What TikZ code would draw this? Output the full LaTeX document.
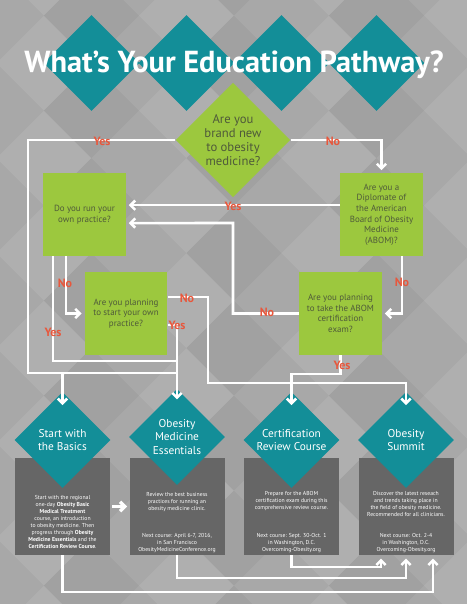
\documentclass[tikz,border=0pt]{standalone}
\usepackage{fontspec}
\setmainfont{PT Sans}
\usetikzlibrary{shapes.geometric, arrows.meta}

\definecolor{pathteal}{HTML}{138E98}
\definecolor{pathgreen}{HTML}{9CC83E}
\definecolor{qtext}{HTML}{4F5A3A}
\definecolor{ansred}{HTML}{E8573C}
\definecolor{boxgray}{HTML}{666666}
\definecolor{bgA}{HTML}{A1A1A1}
\definecolor{bgB}{HTML}{A8A8A8}
\definecolor{bgC}{HTML}{AFAFAF}

\tikzset{
  tealdia/.style={diamond, aspect=1, fill=pathteal, inner sep=0pt,
    minimum width=72pt, minimum height=72pt, text=white, align=center,
    font=\fontsize{8.5}{10}\selectfont},
  question/.style={rectangle, fill=pathgreen, minimum width=62pt,
    minimum height=62pt, inner sep=0pt, text=qtext, align=center,
    font=\fontsize{6.7}{8}\selectfont},
  infobox/.style={rectangle, fill=boxgray, minimum width=71.25pt,
    minimum height=72.75pt, inner sep=0pt},
  infotext/.style={text=white, align=center, inner sep=0pt,
    font=\fontsize{4.3}{5.2}\selectfont},
  answer/.style={text=ansred, inner sep=0pt,
    font=\bfseries\fontsize{9}{10}\selectfont},
  wire/.style={draw=white, line width=1.9pt},
  flow/.style={wire, -{Straight Barb[length=3.5pt,width=7pt]}},
}

\begin{document}
\begin{tikzpicture}[x=0.75pt, y=-0.75pt]

\useasboundingbox (0,0) rectangle (467,604);

% argyle background
\begin{scope}
\clip (0,0) rectangle (467,604);
\fill[bgB] (0,0) rectangle (467,604);
\foreach \i in {-6,...,6}
  \foreach \j in {-2,...,12} {
    \pgfmathtruncatemacro{\bgodd}{mod(\i+\j+40,2)}
    \pgfmathtruncatemacro{\bgtone}{mod(\i+3*\j+60,3)}
    \ifnum\bgodd=0
      \ifcase\bgtone
        \def\bgcol{bgA}\or\def\bgcol{bgB}\or\def\bgcol{bgC}\fi
      \fill[\bgcol] ({234+47.5*\i},{63+47.5*\j}) +(0,-47.5) -- +(47.5,0)
        -- +(0,47.5) -- +(-47.5,0) -- cycle;
    \fi
  }
\end{scope}

% title
\foreach \k/\x in {1/91.5, 2/186.5, 3/281.5, 4/376.5}
  \node[tealdia] (top\k) at (\x,63) {};
\node[text=white, anchor=base, inner sep=0pt,
  font=\bfseries\fontsize{22.8}{26}\selectfont] (title) at (234,72)
  {What’s Your Education Pathway?};

% questions
\node[diamond, aspect=1, fill=pathgreen, inner sep=0pt, minimum width=86pt,
  minimum height=86pt, text=qtext, align=center,
  font=\fontsize{9.5}{10.5}\selectfont] (q0) at (233,140)
  {Are you\\brand new\\to obesity\\medicine?};
\node[question] (q1) at (84.5,214.5) {Do you run your\\own practice?};
\node[question] (q2) at (381.5,214.5)
  {Are you a\\Diplomate of\\the American\\Board of Obesity\\Medicine\\(ABOM)?};
\node[question] (q3) at (126,313.5)
  {Are you planning\\to start your own\\practice?};
\node[question] (q4) at (340.5,313.5)
  {Are you planning\\to take the ABOM\\certification\\exam?};

% courses
\node[infobox] (d1) at (62.5,506.5) {};
\node[infobox] (d2) at (177,506.5) {};
\node[infobox] (d3) at (291.5,506.5) {};
\node[infobox] (d4) at (406,506.5) {};

\node[tealdia] (c1) at (62.5,440) {Start with\\the Basics};
\node[tealdia] (c2) at (177,437) {Obesity\\Medicine\\Essentials};
\node[tealdia] (c3) at (291.5,440) {Certification\\Review Course};
\node[tealdia] (c4) at (406,440) {Obesity\\Summit};

\node[infotext] (d1text) at (62.5,522)
  {Start with the regional\\one-day \textbf{Obesity Basic}\\
   \textbf{Medical Treatment}\\course, an introduction\\
   to obesity medicine. Then\\progress through \textbf{Obesity}\\
   \textbf{Medicine Essentials} and the\\\textbf{Certification Review Course}.};
\node[infotext] (d2a) at (177,502)
  {Review the best business\\practices for running an\\obesity medicine clinic.};
\node[infotext] (d2b) at (177,543)
  {Next course: April 6-7, 2016,\\in San Francisco\\ObesityMedicineConference.org};
\node[infotext] (d3a) at (291.5,501)
  {Prepare for the ABOM\\certification exam during this\\comprehensive review course.};
\node[infotext] (d3b) at (291.5,543)
  {Next course: Sept. 30-Oct. 1\\in Washington, D.C.\\Overcoming-Obesity.org};
\node[infotext] (d4a) at (406,504)
  {Discover the latest reseach\\and trends taking place in\\the field of obesity medicine.\\Recommended for all clinicians.};
\node[infotext] (d4b) at (406,543)
  {Next course: Oct. 2-4\\in Washington, D.C.\\Overcoming-Obesity.org};

% bends
\coordinate (jl) at (28,373);
\coordinate (jr) at (177,373);
\coordinate (jb) at (62.5,373);
\coordinate (jm) at (177,361);
\coordinate (k1) at (233,223);
\coordinate (m1) at (208,383);
\coordinate (m2) at (340.5,374);
\coordinate (n1) at (433,592);
\coordinate (n2) at (406,578);
\coordinate (n3) at (381,567);

% connectors
\draw[wire] (q0.west) -| (jl) -- (jr);
\draw[flow] (jb) -- ([yshift=-10pt]c1.north);
\draw[flow] (q0.east) -| ([yshift=2pt]q2.north);
\draw[flow] ([yshift=7pt]q2.west) -- ([xshift=2pt,yshift=7pt]q1.east);
\draw[flow] (q4.west) -| (k1) -- ([xshift=2pt,yshift=-6.4pt]q1.east);
\draw[flow] ([xshift=15.4pt]q2.south) |- ([xshift=2pt]q4.east);
\draw[flow] ([xshift=-13.9pt]q1.south) |- ([xshift=-2pt]q3.west);
\draw[wire] ([xshift=-23.6pt]q1.south) |- (jm);
\draw[flow] ([yshift=-8.6pt]q3.east) -| ([yshift=-8pt]c2.north);
\draw[flow] ([yshift=12.4pt]q3.east) -| (m1) -| ([yshift=-10pt]c4.north);
\draw[flow] (q4.south) -- (m2) -| ([yshift=-10pt]c3.north);
\draw[flow, line width=2.6pt] ([xshift=1.5pt]d1.east) -- ([xshift=-1.5pt]d2.west);
\draw[flow] (d1.south) |- (n1) -- ([xshift=20.25pt,yshift=-2.5pt]d4.south);
\draw[flow] (d2.south) |- (n2) -- ([yshift=-2.5pt]d4.south);
\draw[flow] (d3.south) |- (n3) -- ([xshift=-18.75pt,yshift=-2.5pt]d4.south);

% answers
\node[answer] (a1) at (102,141) {Yes};
\node[answer] (a2) at (333,141) {No};
\node[answer] (a3) at (233,206) {Yes};
\node[answer] (a4) at (267,312) {No};
\node[answer] (a5) at (402,282) {No};
\node[answer] (a6) at (65,283) {No};
\node[answer] (a7) at (53,332) {Yes};
\node[answer] (a8) at (187,298) {No};
\node[answer] (a9) at (177,325) {Yes};
\node[answer] (a10) at (342,365) {Yes};

\end{tikzpicture}
\end{document}
